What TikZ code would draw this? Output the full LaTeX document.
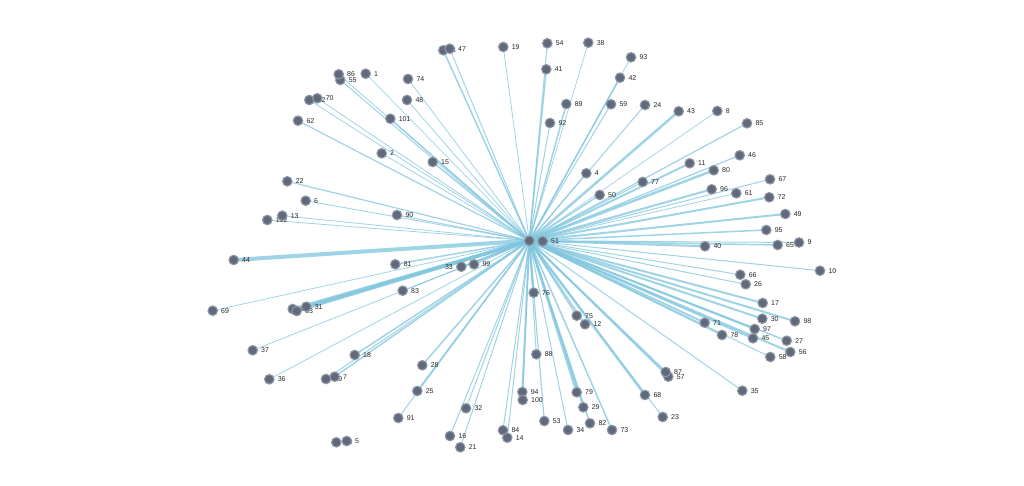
\documentclass[tikz,border=0pt]{standalone}
\usepackage{fontspec}
\setmainfont{Liberation Sans}
\usetikzlibrary{backgrounds}
\definecolor{edgec}{RGB}{128,198,222}
\definecolor{dotfill}{RGB}{96,106,124}
\definecolor{dotring}{RGB}{142,150,164}
\definecolor{lblc}{RGB}{40,40,40}
\tikzset{
  dot/.style={circle,fill=dotfill,draw=dotring,line width=1.1pt,minimum size=9.5pt,inner sep=0pt},
  lbl/.style={font=\fontsize{7}{8}\selectfont,text=lblc,inner sep=1pt},
  every label/.style={lbl},
  label distance=2pt,
  edge/.style={draw=edgec,opacity=0.75,line cap=round}
}
\newcommand{\nd}[3]{\node[dot,label={right:#1}] (n#1) at (#2,#3) {};}
\begin{document}
\begin{tikzpicture}[x=1pt,y=-1pt]
\useasboundingbox (0,0) rectangle (1024,486);
% nodes
\nd{60}{529.3}{240.7}
\nd{51}{542.7}{241.3}
\nd{55}{340.3}{80}
\nd{86}{338.7}{74.3}
\nd{1}{365.7}{73.7}
\nd{74}{408}{79}
\nd{48}{407}{100}
\nd{52}{309.3}{100}
\nd{70}{317.3}{98.3}
\nd{62}{298}{120.7}
\nd{101}{390.3}{118.7}
\nd{2}{381.7}{153.3}
\nd{22}{287.3}{181.3}
\nd{6}{305.7}{200.7}
\nd{102}{267.3}{220}
\nd{13}{282.3}{215.7}
\nd{90}{397}{215}
\nd{3}{443.3}{50.3}
\nd{47}{449.7}{48.7}
\nd{19}{503.3}{47}
\nd{54}{547.3}{43.3}
\nd{38}{588.3}{42.7}
\nd{41}{546.3}{69.3}
\nd{89}{566.3}{104}
\nd{59}{611}{104.3}
\nd{92}{550}{123}
\nd{15}{432.7}{162}
\nd{4}{586.3}{173.3}
\nd{50}{599.7}{195}
\nd{93}{631}{57.3}
\nd{42}{620}{77.7}
\nd{24}{645}{105}
\nd{43}{678.7}{111.3}
\nd{8}{717.3}{111}
\nd{85}{747}{123.3}
\nd{46}{739.7}{155.3}
\nd{11}{689.7}{163.3}
\nd{80}{713.7}{170.3}
\nd{77}{642.7}{182}
\nd{67}{770}{179.3}
\nd{96}{711.7}{189.3}
\nd{61}{736.3}{193.3}
\nd{72}{769.3}{197.3}
\nd{49}{785.3}{214}
\nd{95}{766.3}{230}
\nd{9}{799}{242.5}
\nd{65}{777.7}{245}
\nd{40}{705}{246.3}
\nd{10}{820}{270.7}
\nd{66}{740.3}{274.7}
\nd{26}{745.7}{284.3}
\nd{17}{762.7}{303}
\nd{30}{762.3}{318.7}
\nd{98}{795}{321.3}
\nd{71}{704.7}{322.7}
\nd{97}{754.7}{329}
\nd{78}{722}{335}
\nd{45}{753}{338.3}
\nd{27}{786.7}{340.7}
\nd{56}{790.3}{352}
\nd{58}{770.3}{357}
\nd{57}{668.3}{376.7}
\nd{87}{665.7}{372}
\nd{35}{742.3}{390.7}
\nd{68}{645}{395}
\nd{23}{662.7}{417}
\node[dot,label={left:33}] (n33) at (461.3,266.7) {};
\nd{99}{474}{264.3}
\nd{76}{533.7}{292.7}
\nd{75}{576.7}{315.7}
\nd{12}{585}{324.3}
\nd{88}{536.3}{354.3}
\nd{28}{422.3}{365.3}
\nd{25}{417.3}{391}
\nd{94}{522.3}{392}
\nd{100}{522.7}{400}
\nd{79}{576.7}{392.3}
\nd{29}{583.3}{407.3}
\nd{32}{466}{408.3}
\nd{53}{544.3}{421}
\nd{82}{590}{423.3}
\nd{73}{612}{430}
\nd{34}{568}{430}
\nd{84}{503}{430.3}
\nd{14}{507.3}{437.7}
\nd{16}{450}{436}
\nd{21}{460.3}{447.3}
\nd{44}{233.7}{260}
\nd{81}{395.3}{264.3}
\nd{83}{402.7}{290.7}
\nd{69}{212.7}{310.7}
\nd{64}{292.7}{309}
\nd{63}{296.7}{311}
\nd{31}{306.3}{306.7}
\nd{37}{252.7}{350.3}
\nd{18}{354.7}{355}
\nd{36}{269.3}{379.3}
\nd{39}{326}{379}
\nd{7}{334.7}{376.7}
\nd{91}{398.3}{418}
\nd{20}{336.3}{442.3}
\nd{5}{346.7}{441}
% edges
\begin{pgfonlayer}{background}
\fill[white] (0,0) rectangle (1024,486);
\foreach \n/\w in {
 51/1, 55/1, 86/0.8, 1/0.7, 74/0.8, 48/0.8, 52/0.8, 70/0.8, 62/1.2, 101/1.2, 2/0.8,
 22/1.2, 6/0.9, 102/0.8, 13/0.8, 90/1, 3/1.5, 47/1, 19/0.8, 54/1, 38/0.7, 41/1.5,
 89/1.5, 59/1, 92/1, 15/1.5, 4/1, 50/1.5, 93/0.8, 42/1.5, 24/1, 43/2.5, 8/0.7,
 85/1.2, 46/1.2, 11/2, 80/2.5, 77/1, 67/1, 96/2, 61/0.8, 72/2, 49/2, 95/1.5, 9/1,
 65/1.5, 40/2, 10/1, 66/1, 26/1, 17/2, 30/2, 98/2, 71/2, 97/2, 78/1.5, 45/2, 27/1.5,
 56/2, 58/1, 57/1.5, 87/2, 35/1, 68/2.5, 23/1, 33/1.5, 99/1.5, 76/2, 75/1.5, 12/1.5,
 88/1, 28/1.5, 25/1.5, 94/2, 100/1, 79/2.5, 29/1.5, 32/1, 53/1.2, 82/1.5, 73/1.5,
 34/1, 84/1, 14/1, 16/1, 21/1, 44/4, 81/1.5, 83/1, 69/0.8, 64/3, 63/3, 31/3.5,
 37/0.8, 18/1.5, 36/0.8, 39/1, 7/1.5, 91/1}
 {\draw[edge,line width=\w pt] (n60.center) -- (n\n.center);}
\end{pgfonlayer}
\end{tikzpicture}
\end{document}
